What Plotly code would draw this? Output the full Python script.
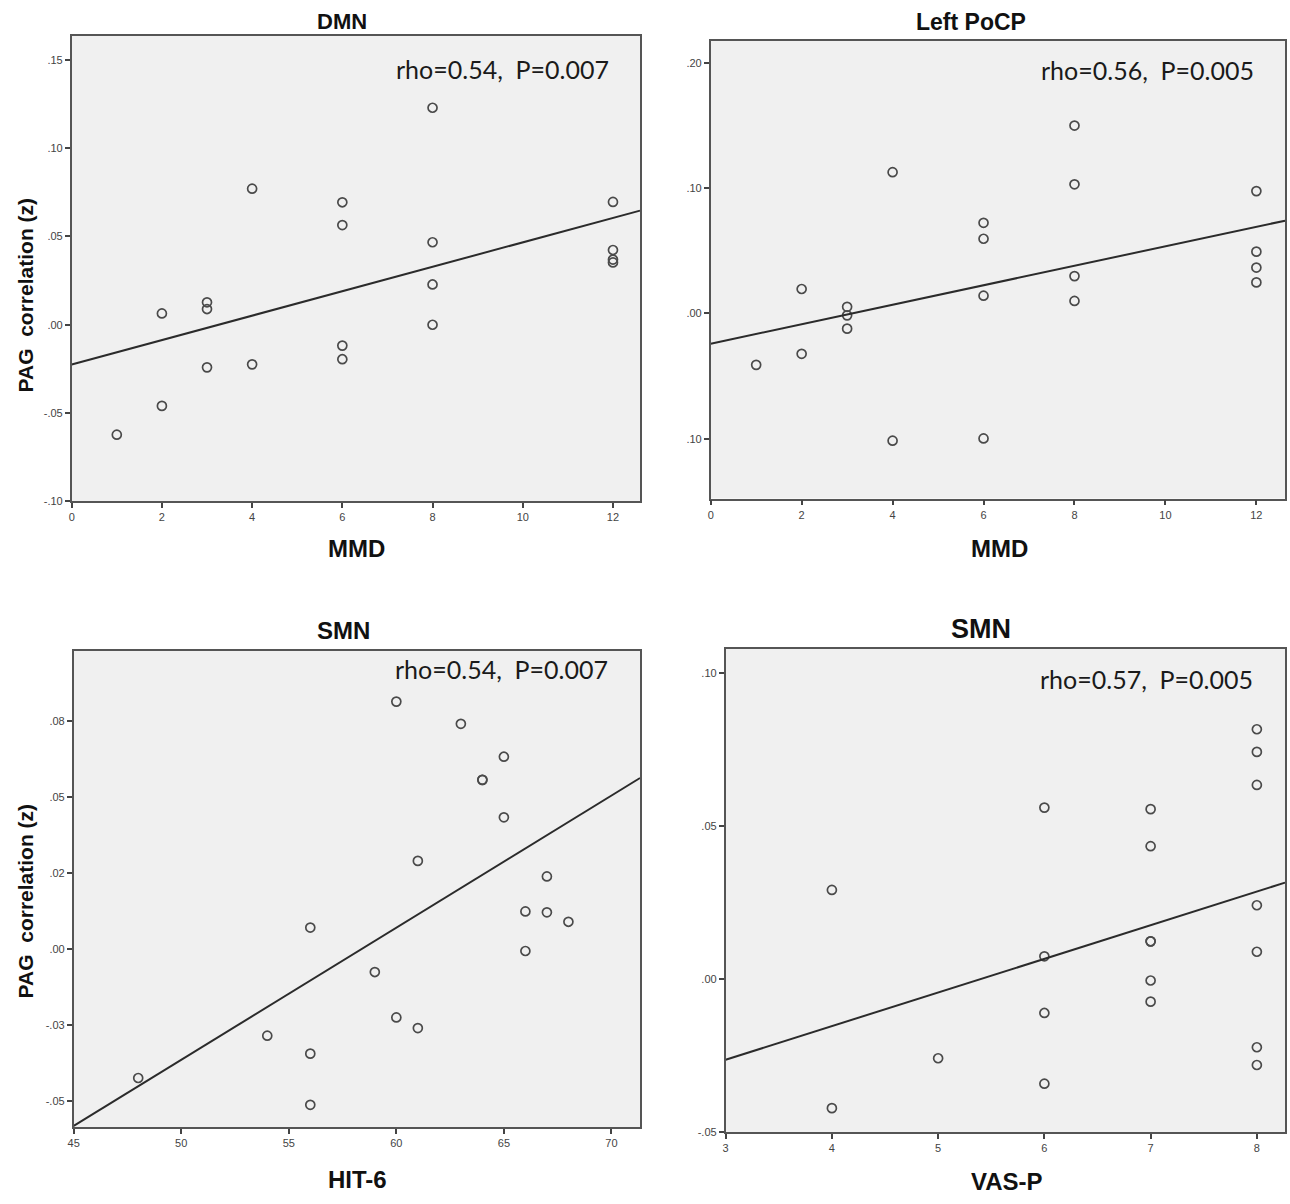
import numpy as np
import plotly.graph_objects as go

W, H = 1290, 1204

# --- data ---
dmn_mmd = [1, 2, 2, 3, 3, 3, 4, 4, 6, 6, 6, 6, 8, 8, 8, 8, 12, 12, 12, 12]
dmn_z = [-0.0622, 0.0064, -0.0459, 0.0127, 0.0089, -0.0241, 0.0770, -0.0224,
         0.0693, 0.0564, -0.0118, -0.0195, 0.1228, 0.0467, 0.0228, 0.0000,
         0.0695, 0.0423, 0.0369, 0.0353]

pocp_mmd = [1, 2, 2, 3, 3, 3, 4, 4, 6, 6, 6, 6, 8, 8, 8, 8, 12, 12, 12, 12]
pocp_z = [-0.0410, 0.0195, -0.0322, 0.0053, -0.0015, -0.0121, 0.1127, -0.1015,
          0.0723, 0.0596, 0.0142, -0.0997, 0.1499, 0.1030, 0.0298, 0.0100,
          0.0976, 0.0493, 0.0366, 0.0248]

smn_hit6 = [48, 54, 56, 56, 56, 59, 60, 60, 61, 61, 63, 64, 64, 65, 65, 66, 66, 67, 67, 68]
smn_hit6_z = [-0.0423, -0.0284, 0.0071, -0.0343, -0.0511, -0.0075, 0.0813, -0.0224,
              0.0290, -0.0259, 0.0740, 0.0556, 0.0556, 0.0632, 0.0433, 0.0124,
              -0.0006, 0.0239, 0.0121, 0.0090]

smn_vasp = [4, 4, 5, 6, 6, 6, 6, 7, 7, 7, 7, 7, 7, 8, 8, 8, 8, 8, 8, 8]
smn_vasp_z = [0.0292, -0.0421, -0.0258, 0.0561, 0.0075, -0.0110, -0.0341, 0.0556,
              0.0435, 0.0124, 0.0124, -0.0004, -0.0073, 0.0817, 0.0743, 0.0635,
              0.0242, 0.0090, -0.0222, -0.0280]

titles = ["DMN", "Left PoCP", "SMN", "SMN"]
x_titles = ["MMD", "MMD", "HIT-6", "VAS-P"]
stats = ["rho=0.54,  P=0.007", "rho=0.56,  P=0.005", "rho=0.54,  P=0.007", "rho=0.57,  P=0.005"]

x_ticks = [[0, 2, 4, 6, 8, 10, 12], [0, 2, 4, 6, 8, 10, 12],
           [45, 50, 55, 60, 65, 70], [3, 4, 5, 6, 7, 8]]
y_ticks = [[-0.10, -0.05, 0.0, 0.05, 0.10, 0.15],
           [-0.10, 0.0, 0.10, 0.20],
           [-0.05, -0.025, 0.0, 0.025, 0.05, 0.075],
           [-0.05, 0.0, 0.05, 0.10]]
y_tick_text = [["-.10", "-.05", ".00", ".05", ".10", ".15"],
               [".10", ".00", ".10", ".20"],
               ["-.05", "-.03", ".00", ".02", ".05", ".08"],
               ["-.05", ".00", ".05", ".10"]]

panels = [(dmn_mmd, dmn_z), (pocp_mmd, pocp_z), (smn_hit6, smn_hit6_z), (smn_vasp, smn_vasp_z)]

# plot-area boxes in pixels (left, right, top, bottom) and axis ranges
boxes = [(66, 637, 36, 504), (708, 1285, 41, 501), (68, 637, 654, 1133), (723, 1285, 652, 1138)]
x_ranges = [[0, 12.6], [0, 12.63], [45, 71.33], [3, 8.265]]
y_ranges = [[-0.10, 0.1635], [-0.1476, 0.2175], [-0.0585, 0.098], [-0.05, 0.108]]

# text placement (pixel centres) and sizes
title_pos = [(338, 22), (970, 22), (339, 634), (980, 632)]
title_size = [22, 23, 24, 27]
xtitle_pos = [(352, 551), (998, 551), (353, 1185), (1006, 1187)]
stats_pos = [(608, 69), (1256, 70), (607, 672), (1255, 682)]


def px(x, y):
    return x / W, 1 - y / H


fig = go.Figure()
annotations = []
for i, (xs, ys) in enumerate(panels):
    n = "" if i == 0 else str(i + 1)
    xa, ya = "x" + n, "y" + n
    fig.add_trace(go.Scatter(
        x=xs, y=ys, mode="markers", xaxis=xa, yaxis=ya, showlegend=False,
        marker=dict(symbol="circle-open", size=9, color="#4a4a4a", line=dict(width=1.7)),
    ))
    # least squares fit line across the whole axis
    slope, icpt = np.polyfit(xs, ys, 1)
    lx = np.array(x_ranges[i])
    fig.add_trace(go.Scatter(
        x=lx, y=slope * lx + icpt, mode="lines", xaxis=xa, yaxis=ya,
        showlegend=False, line=dict(color="#2b2b2b", width=2),
    ))

    l, r, t, b = boxes[i]
    axis_style = dict(showline=True, mirror=True, linecolor="#555555", linewidth=1.6,
                      ticks="outside", ticklen=5, tickwidth=1.5, tickcolor="#444444",
                      showgrid=False, zeroline=False,
                      tickfont=dict(family="Liberation Sans", size=11, color="#444444"))
    fig.update_layout(**{
        "xaxis" + n: dict(domain=[l / W, r / W], range=x_ranges[i], anchor=ya,
                          tickvals=x_ticks[i], **axis_style),
        "yaxis" + n: dict(domain=[1 - b / H, 1 - t / H], range=y_ranges[i], anchor=xa,
                          tickvals=y_ticks[i], ticktext=y_tick_text[i], **axis_style),
    })

    # panel title
    tx, ty = px(*title_pos[i])
    annotations.append(dict(x=tx, y=ty, text=titles[i], showarrow=False,
                            xref="paper", yref="paper", xanchor="center", yanchor="middle",
                            font=dict(family="Liberation Sans", size=title_size[i],
                                      color="#111111", weight="bold")))
    # x axis title
    ax, ay = px(*xtitle_pos[i])
    annotations.append(dict(x=ax, y=ay, text=x_titles[i], showarrow=False,
                            xref="paper", yref="paper", xanchor="center", yanchor="middle",
                            font=dict(family="Liberation Sans", size=24,
                                      color="#111111", weight="bold")))
    # stats text
    sx, sy = px(*stats_pos[i])
    annotations.append(dict(x=sx, y=sy, text=stats[i], showarrow=False,
                            xref="paper", yref="paper", xanchor="right", yanchor="middle",
                            font=dict(family="Lato", size=25, color="#1a1a1a")))

# y axis titles on the left column
for yc in (297, 906):
    yx, yy = px(20, yc)
    annotations.append(dict(x=yx, y=yy, text="PAG\u00a0 correlation (z)", textangle=-90,
                            showarrow=False, xref="paper", yref="paper",
                            xanchor="center", yanchor="middle",
                            font=dict(family="Liberation Sans", size=21,
                                      color="#111111", weight="bold")))

fig.update_layout(
    width=W, height=H,
    margin=dict(l=0, r=0, t=0, b=0),
    paper_bgcolor="white",
    plot_bgcolor="#f0f0f0",
    annotations=annotations,
)
# drop the browser's default body margin so the figure sits at the page corner
fig.write_html("out.html", config={"displayModeBar": False},
               post_script="document.body.style.margin='0';")
